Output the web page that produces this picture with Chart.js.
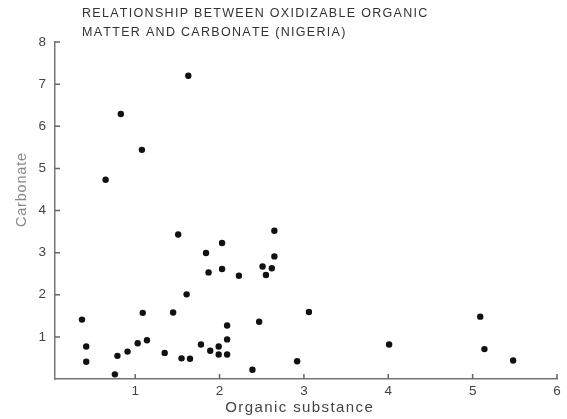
<!DOCTYPE html>
<html>
<head>
<meta charset="utf-8">
<script src="https://cdn.jsdelivr.net/npm/chart.js@4/dist/chart.umd.min.js"></script>
<style>
  html, body { margin: 0; padding: 0; background: #fff; }
  #wrap { width: 567px; height: 419px; }
</style>
</head>
<body>
<div id="wrap"><canvas id="chart-canvas" width="567" height="419"></canvas></div>
<script>
// Valores (Nigéria)
const organicSubstance = [
  1.63, 0.83, 1.08, 0.65, 1.51, 2.65, 2.03, 1.84, 2.65, 1.87, 2.03,
  2.23, 2.51, 2.62, 2.55, 1.61, 0.37, 0.42, 0.42, 0.76, 0.79, 0.91,
  1.03, 1.09, 1.14, 1.35, 1.45, 1.55, 1.65, 1.78, 1.89, 1.99, 1.99,
  2.09, 2.09, 2.09, 2.39, 2.47, 2.92, 3.06, 4.01, 5.09, 5.14, 5.48
];
const carbonate = [
  7.20, 6.29, 5.44, 4.73, 3.43, 3.52, 3.23, 2.99, 2.91, 2.53, 2.61,
  2.45, 2.67, 2.63, 2.47, 2.01, 1.41, 0.77, 0.41, 0.11, 0.55, 0.65,
  0.85, 1.57, 0.92, 0.62, 1.58, 0.49, 0.48, 0.82, 0.67, 0.77, 0.58,
  0.58, 0.94, 1.27, 0.22, 1.36, 0.42, 1.59, 0.82, 1.48, 0.71, 0.44
];
const xTicks = [1, 2, 3, 4, 5, 6];
const yTicks = [1, 2, 3, 4, 5, 6, 7, 8];
const titleLines = [
  'RELATIONSHIP BETWEEN OXIDIZABLE ORGANIC',
  'MATTER AND CARBONATE (NIGERIA)'
];
const xLabel = 'Organic substance';
const yLabel = 'Carbonate';

// desenha texto com espaçamento entre letras
function spacedText(ctx, text, x, y, spacing, align) {
  const chars = [...text];
  const widths = chars.map(c => ctx.measureText(c).width);
  const total = widths.reduce((a, b) => a + b, 0) + spacing * (chars.length - 1);
  let cx = align === 'center' ? x - total / 2 : x;
  ctx.textAlign = 'left';
  chars.forEach((c, i) => {
    ctx.fillText(c, cx, y);
    cx += widths[i] + spacing;
  });
}

// marcas de escala para dentro + títulos
const decorPlugin = {
  id: 'decor',
  beforeDatasetsDraw(chart) {
    const { ctx, scales } = chart;
    const xs = scales.x, ys = scales.y;
    ctx.save();
    ctx.strokeStyle = '#666';
    ctx.lineWidth = 1.5;
    ctx.beginPath();
    ys.ticks.forEach(t => {
      const py = ys.getPixelForValue(t.value);
      ctx.moveTo(xs.left, py);
      ctx.lineTo(xs.left + 5, py);
    });
    xs.ticks.forEach(t => {
      const px = xs.getPixelForValue(t.value);
      ctx.moveTo(px, ys.bottom);
      ctx.lineTo(px, ys.bottom - 5);
    });
    ctx.stroke();
    ctx.restore();
  },
  afterDraw(chart) {
    const { ctx } = chart;
    ctx.save();
    ctx.textBaseline = 'middle';
    // título
    ctx.fillStyle = '#333';
    ctx.font = '12.5px "Liberation Sans", Arial, sans-serif';
    spacedText(ctx, titleLines[0], 82, 14, 1.3, 'left');
    spacedText(ctx, titleLines[1], 82, 33, 1.3, 'left');
    // eixo x
    ctx.fillStyle = '#444';
    ctx.font = '15px "Liberation Sans", Arial, sans-serif';
    spacedText(ctx, xLabel, 299, 408, 1.4, 'center');
    // eixo y
    ctx.translate(22, 190);
    ctx.rotate(-Math.PI / 2);
    ctx.fillStyle = '#888';
    ctx.font = '14.5px "Liberation Sans", Arial, sans-serif';
    spacedText(ctx, yLabel, 0, 0, 0.8, 'center');
    ctx.restore();
  }
};

const points = organicSubstance.map((x, i) => ({ x: x, y: carbonate[i] }));

new Chart(document.getElementById('chart-canvas'), {
  type: 'scatter',
  data: {
    datasets: [{
      label: 'Nigeria',
      data: points,
      backgroundColor: '#111',
      borderColor: '#111',
      pointRadius: 3.2,
      pointHoverRadius: 3.2,
      borderWidth: 0
    }]
  },
  options: {
    responsive: false,
    animation: false,
    layout: { padding: { top: 42, right: 10, left: 0, bottom: 0 } },
    plugins: {
      legend: { display: false },
      tooltip: { enabled: false },
      title: { display: false }
    },
    scales: {
      x: {
        type: 'linear',
        min: 0.05,
        max: 6,
        afterBuildTicks: s => { s.ticks = xTicks.map(v => ({ value: v })); },
        afterFit: s => { s.height = 40; },
        grid: { display: false, drawTicks: false },
        border: { display: true, color: '#777', width: 1.5 },
        ticks: {
          color: '#444',
          padding: 4,
          font: { family: '"Liberation Sans", Arial, sans-serif', size: 13.5 },
          maxRotation: 0
        }
      },
      y: {
        type: 'linear',
        min: 0,
        max: 8,
        afterBuildTicks: s => { s.ticks = yTicks.map(v => ({ value: v })); },
        afterFit: s => { s.width = 55; },
        grid: { display: false, drawTicks: false },
        border: { display: true, color: '#777', width: 1.5 },
        ticks: {
          color: '#444',
          padding: 9,
          font: { family: '"Liberation Sans", Arial, sans-serif', size: 13.5 }
        }
      }
    }
  },
  plugins: [decorPlugin]
});
</script>
</body>
</html>
